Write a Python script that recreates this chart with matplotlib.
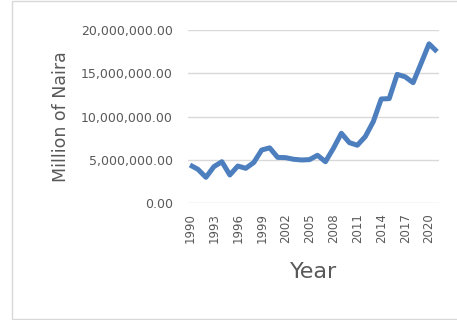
import matplotlib
matplotlib.use("Agg")
import matplotlib.pyplot as plt
from matplotlib.patches import Rectangle
from matplotlib.ticker import FuncFormatter

# Yearly values, million of Naira
years = list(range(1990, 2022))
values = [
    4.42e6, 3.92e6, 3.00e6, 4.23e6, 4.80e6, 3.27e6, 4.30e6, 4.04e6,
    4.70e6, 6.15e6, 6.40e6, 5.30e6, 5.27e6, 5.08e6, 5.00e6, 5.04e6,
    5.54e6, 4.80e6, 6.35e6, 8.08e6, 7.00e6, 6.70e6, 7.70e6, 9.42e6,
    12.04e6, 12.08e6, 14.88e6, 14.60e6, 13.92e6, 16.15e6, 18.40e6, 17.50e6,
]
y_ticks = [0, 5e6, 10e6, 15e6, 20e6]
x_ticks = list(range(1990, 2021, 3))

text_color = "#595959"
grid_color = "#d9d9d9"

fig = plt.figure(figsize=(4.57, 3.2), dpi=100)
fig.patch.set_facecolor("white")

# thin frame around the chart area
fig.patches.append(Rectangle((12 / 457, 1 / 320), 1.0, 318 / 320,
                             transform=fig.transFigure, fill=False,
                             edgecolor="#d9d9d9", linewidth=1.0))

ax = fig.add_axes([188 / 457, (320 - 203.3) / 320, (439 - 188) / 457, (203.3 - 30) / 320])
ax.plot(years, values, color="#4d7fbf", linewidth=3.6, solid_joinstyle="round",
        solid_capstyle="butt", zorder=3)

ax.set_xlim(1989.75, 2021.25)
ax.set_ylim(0, 20e6)
ax.set_yticks(y_ticks)
ax.yaxis.set_major_formatter(FuncFormatter(lambda v, _: f"{v:,.2f}"))
ax.set_xticks(x_ticks)
ax.set_xticklabels([str(x) for x in x_ticks], rotation=90)

ax.grid(axis="y", color=grid_color, linewidth=1.0, zorder=0)
for side in ("top", "right", "left", "bottom"):
    ax.spines[side].set_visible(False)
ax.tick_params(axis="both", length=0, colors=text_color)
ax.tick_params(axis="y", pad=11, labelsize=9)
ax.tick_params(axis="x", pad=7, labelsize=8.5)

ax.set_ylabel("Million of Naira", fontsize=12.5, color=text_color, labelpad=8)
ax.set_xlabel("Year", fontsize=16, color=text_color, labelpad=14)

fig.savefig("out.png", dpi=100)
